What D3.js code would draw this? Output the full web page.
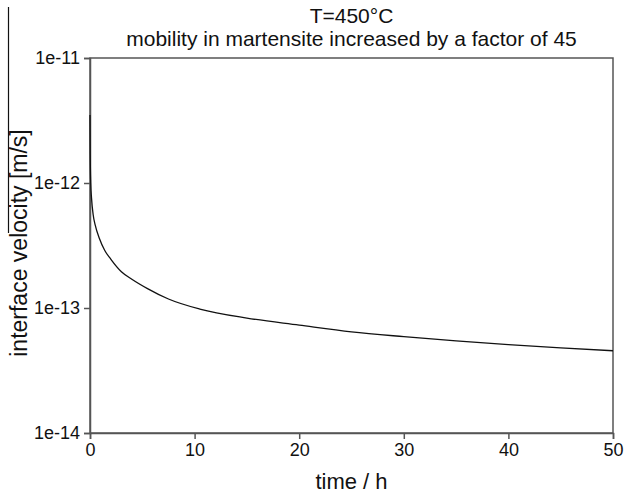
<!DOCTYPE html>
<html>
<head>
<meta charset="utf-8">
<script src="https://cdn.jsdelivr.net/npm/d3@7"></script>
<style>
  body { margin: 0; background: #fff; }
  text { font-family: "Liberation Sans", Arial, sans-serif; fill: #111; }
</style>
</head>
<body>
<script>
// values
const times = [0, 0.02, 0.07, 0.15, 0.3, 0.5, 0.9, 1.4, 2, 3, 4, 5.5, 7.5, 10.5, 15, 20, 25, 30, 35, 40, 45, 50];
const velocity = [3.5e-12, 1.7e-12, 1.0e-12, 7.5e-13, 5.6e-13, 4.6e-13, 3.6e-13, 2.9e-13, 2.45e-13, 1.95e-13,
                  1.7e-13, 1.43e-13, 1.18e-13, 9.8e-14, 8.3e-14, 7.3e-14, 6.45e-14, 5.9e-14, 5.45e-14, 5.1e-14, 4.8e-14, 4.55e-14];
const xTicks = [0, 10, 20, 30, 40, 50];
const yTicks = [1e-14, 1e-13, 1e-12, 1e-11];
const yTickLabels = ["1e-14", "1e-13", "1e-12", "1e-11"];
const titleLines = ["T=450°C", "mobility in martensite increased by a factor of 45"];

const data = times.map((t, i) => ({ t: t, v: velocity[i] }));

const margin = { top: 58, right: 11, bottom: 63, left: 90 },
    width = 624 - margin.left - margin.right,
    height = 496 - margin.top - margin.bottom;

const svg = d3.select("body").append("svg")
    .attr("width", 624)
    .attr("height", 496);

const g = svg.append("g")
    .attr("transform", "translate(" + margin.left + "," + margin.top + ")");

const x = d3.scaleLinear().domain([0, 50]).range([0, width]);
const y = d3.scaleLog().domain([1e-14, 1e-11]).range([height, 0]);

// frame
g.append("rect")
    .attr("width", width)
    .attr("height", height)
    .attr("fill", "none")
    .attr("stroke", "#555")
    .attr("stroke-width", 1.5);

const gx = g.append("g")
    .attr("transform", "translate(0," + height + ")")
    .call(d3.axisBottom(x).tickValues(xTicks).tickSize(6).tickPadding(4));

const gy = g.append("g")
    .call(d3.axisLeft(y).tickValues(yTicks).tickFormat((d, i) => yTickLabels[i]).tickSize(6).tickPadding(4));

[gx, gy].forEach(a => {
    a.select(".domain").attr("stroke", "#555").attr("stroke-width", 1.5);
    a.selectAll(".tick line").attr("stroke", "#555").attr("stroke-width", 1.5);
    a.selectAll(".tick text").attr("font-size", 18).attr("fill", "#111")
        .style("font-family", "'Liberation Sans', Arial, sans-serif");
});

g.append("path")
    .datum(data)
    .attr("fill", "none")
    .attr("stroke", "#111")
    .attr("stroke-width", 1.3)
    .attr("d", d3.line()
        .x(d => x(d.t))
        .y(d => y(d.v))
        .curve(d3.curveMonotoneX));

// titles
svg.selectAll(".title")
    .data(titleLines)
    .enter().append("text")
    .attr("class", "title")
    .attr("x", margin.left + width / 2)
    .attr("y", (d, i) => 23 + i * 23)
    .attr("text-anchor", "middle")
    .attr("font-size", 21)
    .text(d => d);

svg.append("text")
    .attr("x", margin.left + width / 2)
    .attr("y", 489)
    .attr("text-anchor", "middle")
    .attr("font-size", 22)
    .text("time / h");

svg.append("text")
    .attr("transform", "translate(27,243) rotate(-90)")
    .attr("text-anchor", "middle")
    .attr("font-size", 23)
    .text("interface velocity [m/s]");

// stray line at the left edge of the reference
svg.append("line")
    .attr("x1", 8.5).attr("x2", 8.5)
    .attr("y1", 7).attr("y2", 233)
    .attr("stroke", "#111")
    .attr("stroke-width", 1.2);
</script>
</body>
</html>
